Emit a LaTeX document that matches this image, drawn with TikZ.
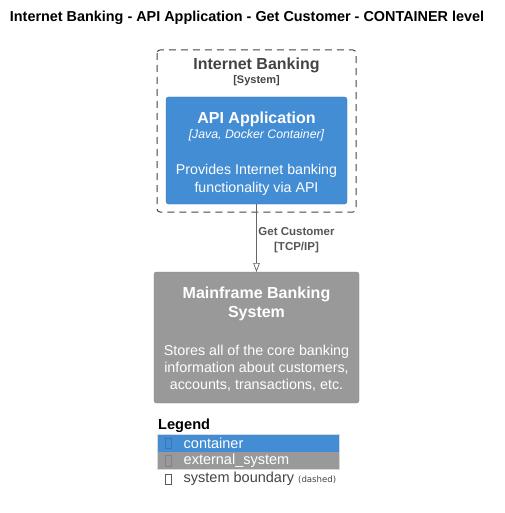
\documentclass[tikz,border=0pt]{standalone}
\usepackage{fontspec}
\setmainfont{Liberation Sans}
\newfontfamily\dvs{DejaVu Sans}
\usetikzlibrary{arrows.meta}
\definecolor{cblue}{HTML}{438DD5}
\definecolor{cgray}{HTML}{999999}
\definecolor{btxt}{HTML}{444444}
\definecolor{ltxt}{HTML}{555555}
\definecolor{lline}{HTML}{666666}
\begin{document}
\begin{tikzpicture}[x=1pt,y=-1pt,
  box/.style={rounded corners=2.5pt, draw=#1!85!black, line width=0.4pt, fill=#1},
  wt/.style={text=white, align=center, inner sep=0pt},
  glyph/.style={draw=#1, line width=0.5pt, minimum width=6pt, minimum height=10.5pt, inner sep=0pt}]
\useasboundingbox (0,0) rectangle (504,513);
% title
\node[font=\bfseries\fontsize{14.4}{16}\selectfont, inner sep=0pt] (title) at (247,18) {Internet Banking - API Application - Get Customer - CONTAINER level};
% boundary
\draw[dashed, dash pattern=on 7pt off 5pt, line width=1pt, draw=btxt, rounded corners=3pt] (157,50) rectangle (356,212);
\node[font=\bfseries\fontsize{16}{18}\selectfont, text=btxt, inner sep=0pt] (bt) at (256.5,65) {Internet Banking};
\node[font=\bfseries\fontsize{11}{13}\selectfont, text=btxt, inner sep=0pt] (bs) at (256.5,81) {[System]};
% api app
\draw[box=cblue] (166,97) rectangle (347,204);
\coordinate (apitop) at (256.5,97);
\coordinate (apibot) at (256.5,204);
\node[wt, font=\bfseries\fontsize{16}{18}\selectfont] (an) at (256.5,119) {API Application};
\node[wt, font=\itshape\fontsize{12.3}{14}\selectfont] (at) at (256.5,135.5) {[Java, Docker Container]};
\node[wt, font=\fontsize{14.2}{18}\selectfont] (ad) at (256.5,179.5) {Provides Internet banking\\functionality via API};
% mainframe
\draw[box=cgray] (154,272) rectangle (359,403);
\coordinate (mtop) at (256.5,272);
\node[wt, font=\bfseries\fontsize{16}{19.5}\selectfont] (mn) at (256.5,304) {Mainframe Banking\\System};
\node[wt, font=\fontsize{14.3}{17}\selectfont] (md) at (256.5,368) {Stores all of the core banking\\information about customers,\\accounts, transactions, etc.};
% arrow
\draw[lline, line width=0.7pt, -{Triangle[open, width=6.5pt, length=9pt]}] (apibot) -- (mtop);
\node[font=\bfseries\fontsize{11.5}{15}\selectfont, text=ltxt, align=center, inner sep=0pt] (rel) at (296.5,240) {Get Customer\\{}[TCP/IP]};
% legend
\node[font=\bfseries\fontsize{14.6}{16}\selectfont, anchor=west, inner sep=0pt] (leg) at (158,426) {Legend};
\fill[cblue] (157,434) rectangle (339,452);
\fill[cgray] (157,452) rectangle (339,469);
\draw[black!15, line width=0.5pt] (157,434) rectangle (339,469);
\node[glyph=cblue!85!black] (g1) at (168,443) {};
\node[glyph=cgray!85!black] (g2) at (168,460.5) {};
\node[glyph=black!65] (g3) at (168,479) {};
\node[font=\fontsize{14.5}{15}\selectfont, text=white, anchor=west, inner sep=0pt] (l1) at (183.5,443) {container};
\node[font=\fontsize{14.5}{15}\selectfont, text=white, anchor=west, inner sep=0pt] (l2) at (183.5,460.5) {external\_system};
\node[font=\fontsize{14.5}{15}\selectfont, text=btxt, anchor=west, inner sep=0pt] (l3) at (183.5,479) {system boundary {\dvs\fontsize{8.6}{10}\selectfont (dashed)}};
\end{tikzpicture}
\end{document}
